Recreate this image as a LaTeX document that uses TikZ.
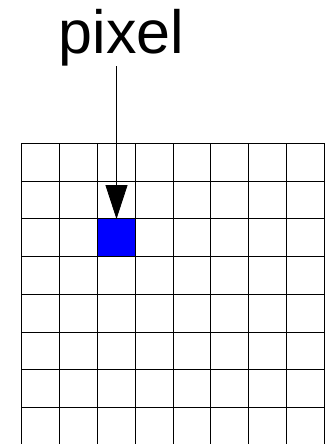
\documentclass[tikz,border=0pt]{standalone}
\usepackage{fontspec}
\setmainfont{Liberation Sans}
\usetikzlibrary{arrows.meta}
\begin{document}
\begin{tikzpicture}[x=1pt,y=-1pt,
  gridline/.style={black,line width=0.9pt},
  pointer/.style={black,line width=0.7pt,-{Triangle[width=22pt,length=34pt]}},
  pixelbox/.style={fill={rgb,255:red,0;green,0;blue,255},draw=none,minimum width=37.6pt,minimum height=37.5pt,inner sep=0pt}]
\useasboundingbox (0,0) rectangle (326,444);
\clip (0,0) rectangle (326,444);
\node[pixelbox] (pix) at (116.5,238) {};
\foreach \i in {0,...,8}{
  \draw[gridline] (21.7+\i*37.83,143.3) -- (21.7+\i*37.83,448);
}
\foreach \j in {0,...,7}{
  \draw[gridline] (21.7,143.3+\j*37.75) -- (324.3,143.3+\j*37.75);
}
\node[anchor=base,inner sep=0pt,font=\fontsize{61}{61}\selectfont] (label) at (121.7,53.5) {pixel};
\draw[pointer] (label.south -| pix.north) -- (pix.north);
\end{tikzpicture}
\end{document}
